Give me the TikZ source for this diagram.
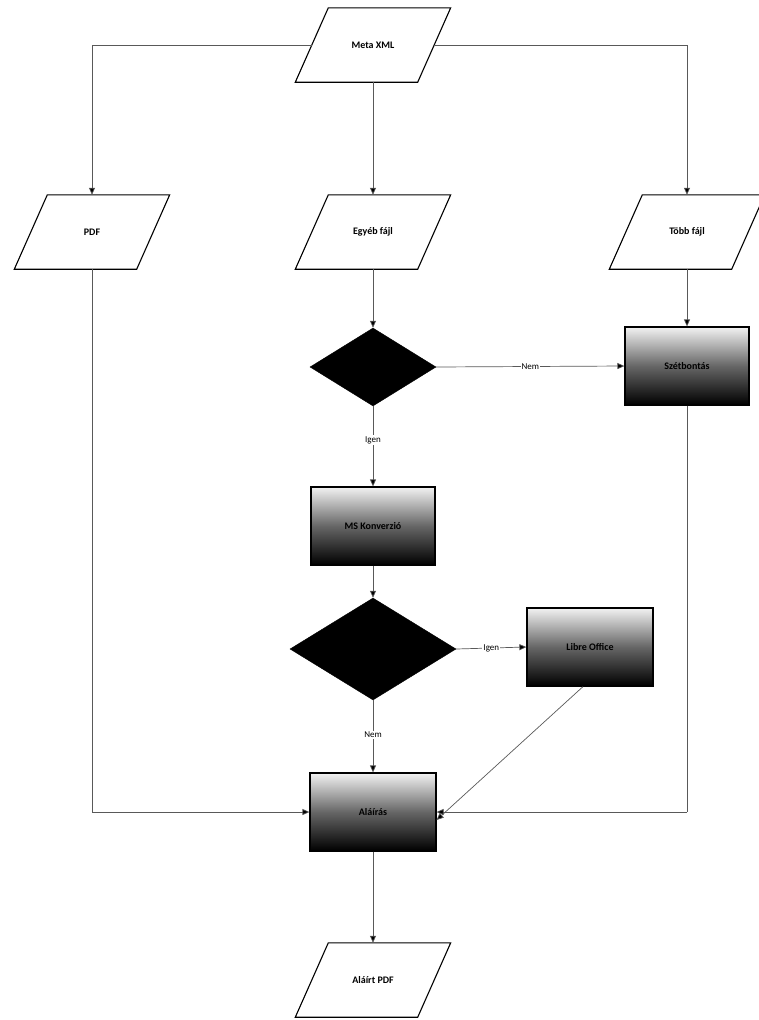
\documentclass[tikz,border=0pt]{standalone}
\usepackage{fontspec}
\setmainfont{Carlito}
\usetikzlibrary{shapes.geometric,arrows.meta}
\begin{document}
\begin{tikzpicture}[x=1pt,y=-1pt,
  para/.style={shape=rectangle,minimum width=122pt,minimum height=74pt,inner sep=0pt,font=\bfseries\fontsize{10}{11}\selectfont},
  procbox/.style={draw=black,line width=1.2pt,minimum width=124pt,minimum height=78pt,inner sep=0pt,
    top color=gray!10,bottom color=black,middle color=gray!80!black,font=\bfseries\fontsize{10}{11}\selectfont},
  decision/.style={diamond,fill=black,draw=black,inner sep=0pt,aspect=1.6},
  conn/.style={draw=gray!70!black,line width=0.7pt,-{Triangle[length=7pt,width=6pt,fill=black]}},
  plain/.style={draw=gray!70!black,line width=0.7pt},
  lbl/.style={fill=white,inner sep=1pt,font=\fontsize{9}{10}\selectfont}]
\useasboundingbox (0,0) rectangle (758,1020);
\newcommand{\drawpara}[1]{\draw[line width=1.1pt] ([xshift=16.5pt]#1.north west) -- ([xshift=16.5pt]#1.north east) -- ([xshift=-16.5pt]#1.south east) -- ([xshift=-16.5pt]#1.south west) -- cycle;}
\node[para] (meta) at (373,45) {Meta XML};
\node[para] (pdf) at (92,232) {PDF};
\node[para] (egyeb) at (373,232) {Egyéb fájl};
\node[para] (tobb) at (687,232) {Több fájl};
\node[para] (alairt) at (373,980) {Aláírt PDF};
\drawpara{meta}\drawpara{pdf}\drawpara{egyeb}\drawpara{tobb}\drawpara{alairt}
\node[decision,minimum width=126pt,minimum height=78pt] (d1) at (373,367) {};
\node[procbox] (szet) at (687,366) {Szétbontás};
\node[procbox] (ms) at (373,526) {MS Konverzió};
\node[decision,minimum width=166pt,minimum height=102pt] (d2) at (373,649) {};
\node[procbox,minimum width=126pt] (libre) at (590,647) {Libre Office};
\node[procbox,minimum width=126pt] (alair) at (373,812) {Aláírás};
\coordinate (mL) at (pdf.north |- meta.west);
\coordinate (mR) at (tobb.north |- meta.east);
\path[plain] (meta.west) -- (mL);
\path[conn] (mL) -- (pdf.north);
\path[plain] (meta.east) -- (mR);
\path[conn] (mR) -- (tobb.north);
\path[conn] (meta.south) -- (egyeb.north);
\path[conn] (egyeb.south) -- (d1.north);
\path[conn] (d1.east) -- node[lbl]{Nem} (szet.west);
\path[conn] (tobb.south) -- (szet.north);
\path[conn] (d1.south) -- node[lbl,pos=0.42]{Igen} (ms.north);
\path[conn] (ms.south) -- (d2.north);
\path[conn] (d2.east) -- node[lbl,pos=0.5]{Igen} (libre.west);
\path[conn] (d2.south) -- node[lbl,pos=0.48]{Nem} (alair.north);
\coordinate (pL) at (pdf.south |- alair.west);
\path[plain] (pdf.south) -- (pL);
\path[conn] (pL) -- (alair.west);
\coordinate (sR) at (szet.south |- alair.east);
\path[plain] (szet.south) -- (sR);
\path[conn] (sR) -- (alair.east);
\path[conn] ([xshift=-7pt]libre.south) -- ([yshift=-8pt]alair.east);
\path[conn] (alair.south) -- (alairt.north);
\end{tikzpicture}
\end{document}
